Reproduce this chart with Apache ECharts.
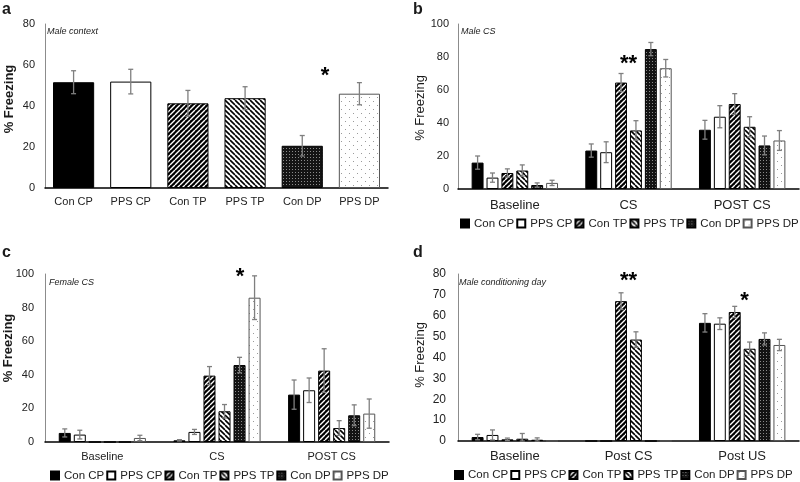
<!DOCTYPE html>
<html><head><meta charset="utf-8">
<script src="https://cdn.jsdelivr.net/npm/echarts@6.0.0/dist/echarts.min.js"></script>
<style>html,body{margin:0;padding:0;background:#fff}#c{width:800px;height:482px}</style>
</head><body><div id="c"></div>
<script>
// ---------- data ----------
const groupNames = ['Con CP', 'PPS CP', 'Con TP', 'PPS TP', 'Con DP', 'PPS DP'];

// Panel a: Male context
const aCategories = ['Con CP', 'PPS CP', 'Con TP', 'PPS TP', 'Con DP', 'PPS DP'];
const aValues = [51.6, 51.9, 41.3, 43.8, 20.6, 46.0];
const aErrors = [5.6, 6.0, 6.3, 5.6, 5.0, 5.4];

// Panel b: Male CS (rows = groups, columns = phases)
const bCategories = ['Baseline', 'CS', 'POST CS'];
const bValues = [
  [16.0, 23.3, 35.9],
  [6.9, 22.3, 43.8],
  [9.7, 64.5, 51.5],
  [11.2, 35.5, 37.7],
  [2.4, 84.8, 26.4],
  [3.7, 73.2, 29.4]
];
const bErrors = [
  [4.0, 4.0, 5.7],
  [2.8, 6.3, 6.7],
  [2.5, 5.5, 6.3],
  [3.4, 5.9, 6.1],
  [1.3, 4.0, 5.7],
  [1.6, 5.3, 6.0]
];

// Panel c: Female CS
const cCategories = ['Baseline', 'CS', 'POST CS'];
const cValues = [
  [5.4, 1.0, 28.2],
  [4.4, 6.0, 30.8],
  [0, 39.5, 42.5],
  [0, 18.3, 8.3],
  [0, 45.8, 15.9],
  [2.4, 85.9, 16.9]
];
const cErrors = [
  [2.4, 0.4, 8.7],
  [2.6, 1.5, 7.3],
  [0, 5.4, 13.0],
  [0, 4.0, 4.4],
  [0, 4.6, 6.2],
  [1.6, 13.0, 8.7]
];

// Panel d: Male conditioning day
const dCategories = ['Baseline', 'Post CS', 'Post US'];
const dValues = [
  [1.9, 0, 56.6],
  [2.9, 0, 56.2],
  [0.8, 67.0, 61.8],
  [1.1, 48.6, 44.2],
  [0.6, 0, 48.9],
  [0, 0, 46.0]
];
const dErrors = [
  [1.3, 0, 4.4],
  [2.4, 0, 2.8],
  [0.6, 4.0, 2.7],
  [2.5, 3.7, 3.2],
  [0.9, 0, 2.9],
  [0, 0, 2.7]
];

// significance marks: category index, value, offset (fraction of band), text
const aStarCat = [4], aStarVal = [57.1], aStarDx = [0.4], aStarText = ['*'];
const bStarCat = [1], bStarVal = [78.8], bStarDx = [0], bStarText = ['**'];
const cStarCat = [1], cStarVal = [101.2], cStarDx = [0.2], cStarText = ['*'];
const dStarCat = [1, 2], dStarVal = [78.6, 69.1], dStarDx = [0, 0.02], dStarText = ['**', '*'];

// ---------- styles ----------
const FONT = '"Liberation Sans", Arial, sans-serif';
function pat(kind) {
  const c = document.createElement('canvas');
  const x = c.getContext('2d');
  if (kind === 'fwd') {
    const s = 5; c.width = c.height = s;
    x.fillStyle = '#000'; x.fillRect(0, 0, s, s);
    x.strokeStyle = '#fff'; x.lineWidth = 1.4; x.beginPath();
    for (let k = -1; k <= 1; k++) { x.moveTo(k * s, s); x.lineTo(k * s + s, 0); }
    x.stroke();
  } else if (kind === 'back') {
    const s = 5; c.width = c.height = s;
    x.fillStyle = '#fff'; x.fillRect(0, 0, s, s);
    x.strokeStyle = '#000'; x.lineWidth = 1.6; x.beginPath();
    for (let k = -1; k <= 1; k++) { x.moveTo(k * s, 0); x.lineTo(k * s + s, s); }
    x.stroke();
  } else if (kind === 'dd') {
    c.width = c.height = 3;
    x.fillStyle = '#141414'; x.fillRect(0, 0, 3, 3);
    x.fillStyle = '#8a8a8a'; x.fillRect(1, 1, 1, 1);
  } else {
    c.width = c.height = 8;
    x.fillStyle = '#fff'; x.fillRect(0, 0, 8, 8);
    x.fillStyle = '#9a9a9a'; x.fillRect(1, 1, 1, 1); x.fillRect(5, 5, 1, 1);
  }
  return { image: c, repeat: 'repeat' };
}
const groupStyles = [
  { color: '#000', borderColor: '#000', borderWidth: 1 },
  { color: '#fff', borderColor: '#000', borderWidth: 1 },
  { color: pat('fwd'), borderColor: '#000', borderWidth: 1 },
  { color: pat('back'), borderColor: '#000', borderWidth: 1 },
  { color: pat('dd'), borderColor: '#000', borderWidth: 1 },
  { color: pat('ld'), borderColor: '#555', borderWidth: 1 }
];

const CAT_GAP_A = 0.28, CAT_GAP = 0.24, BAR_GAP = 0.25;

function errRender(catGap, barGap, n) {
  return function (params, api) {
    const cat = api.value(0), s = api.value(1), v = api.value(2), e = api.value(3);
    if (!(e > 0)) return null;
    const band = api.size([1, 0])[0];
    const usable = band * (1 - catGap);
    const bw = usable / (n + (n - 1) * barGap);
    const cx = api.coord([cat, 0])[0] - usable / 2 + s * bw * (1 + barGap) + bw / 2;
    const yT = api.coord([cat, v + e])[1];
    const yB = api.coord([cat, Math.max(0, v - e)])[1];
    const cap = Math.min(5, bw * 0.45) / 2;
    const st = { stroke: '#7f7f7f', lineWidth: 1.3 };
    return { type: 'group', children: [
      { type: 'line', shape: { x1: cx, y1: yT, x2: cx, y2: yB }, style: st },
      { type: 'line', shape: { x1: cx - cap, y1: yT, x2: cx + cap, y2: yT }, style: st },
      { type: 'line', shape: { x1: cx - cap, y1: yB, x2: cx + cap, y2: yB }, style: st }
    ]};
  };
}
function starRender(texts) {
  return function (params, api) {
    const band = api.size([1, 0])[0];
    const p = api.coord([api.value(0), api.value(1)]);
    return { type: 'text', x: p[0] + api.value(2) * band, y: p[1] + 4.5,
      style: { text: texts[params.dataIndex], font: 'bold 22px ' + FONT, fill: '#000', align: 'center', verticalAlign: 'middle' } };
  };
}

// ---------- build ----------
const grids = [
  { left: 45, top: 24, width: 343, height: 164 },
  { left: 458, top: 24, width: 341, height: 165 },
  { left: 45, top: 274, width: 344, height: 168 },
  { left: 458, top: 274, width: 341, height: 167 }
];
const xCats = [aCategories, bCategories, cCategories, dCategories];
const xFont = [11, 13, 11, 13], xMargin = [8, 10, 9, 9];
const yMax = [80, 100, 100, 80], yInt = [20, 20, 20, 10], yFont = [11, 11, 11, 12], yMargin = [10, 9, 11, 12];

const xAxis = xCats.map((cats, i) => ({
  type: 'category', gridIndex: i, data: cats,
  axisTick: { show: false },
  axisLine: { lineStyle: { color: '#000', width: 1.5 } },
  axisLabel: { color: '#222', fontSize: xFont[i], fontFamily: FONT, margin: xMargin[i], interval: 0 }
}));
const yAxis = yMax.map((m, i) => ({
  type: 'value', gridIndex: i, min: 0, max: m, interval: yInt[i],
  axisLine: { show: true, lineStyle: { color: '#8c8c8c', width: 1 } },
  axisTick: { show: false }, splitLine: { show: false },
  axisLabel: { color: '#222', fontSize: yFont[i], fontFamily: FONT, margin: yMargin[i] }
}));

const series = [];
// panel a
series.push({
  type: 'bar', name: 'Male context', xAxisIndex: 0, yAxisIndex: 0,
  barCategoryGap: (CAT_GAP_A * 100) + '%',
  data: aValues.map((v, i) => ({ value: v, itemStyle: groupStyles[i] })),
  z: 2
});
series.push({
  type: 'custom', xAxisIndex: 0, yAxisIndex: 0, silent: true, z: 5,
  encode: { x: 0, y: 2 },
  data: aValues.map((v, i) => [i, 0, v, aErrors[i]]),
  renderItem: errRender(CAT_GAP_A, BAR_GAP, 1)
});
series.push({
  type: 'custom', xAxisIndex: 0, yAxisIndex: 0, silent: true, z: 6, encode: { x: 0, y: 1 },
  data: aStarCat.map((c, i) => [c, aStarVal[i], aStarDx[i]]),
  renderItem: starRender(aStarText)
});
// panels b,c,d
const grouped = [
  [bValues, bErrors, bStarCat, bStarVal, bStarDx, bStarText],
  [cValues, cErrors, cStarCat, cStarVal, cStarDx, cStarText],
  [dValues, dErrors, dStarCat, dStarVal, dStarDx, dStarText]
];
grouped.forEach((g, k) => {
  const ax = k + 1;
  const [vals, errs, sc, sv, sd, stx] = g;
  vals.forEach((row, s) => {
    series.push({
      type: 'bar', name: groupNames[s], xAxisIndex: ax, yAxisIndex: ax,
      barGap: (BAR_GAP * 100) + '%', barCategoryGap: (CAT_GAP * 100) + '%',
      itemStyle: groupStyles[s], data: row, z: 2
    });
  });
  const edata = [];
  vals.forEach((row, s) => row.forEach((v, c) => edata.push([c, s, v, errs[s][c]])));
  series.push({
    type: 'custom', xAxisIndex: ax, yAxisIndex: ax, silent: true, z: 5,
    encode: { x: 0, y: 2 }, data: edata, renderItem: errRender(CAT_GAP, BAR_GAP, 6)
  });
  series.push({
    type: 'custom', xAxisIndex: ax, yAxisIndex: ax, silent: true, z: 6, encode: { x: 0, y: 1 },
    data: sc.map((c, i) => [c, sv[i], sd[i]]), renderItem: starRender(stx)
  });
});

const legendPos = [[460, 217.5], [50, 469.5], [454, 469]];
const legend = legendPos.map(p => ({
  left: p[0], top: p[1], width: 420, padding: 0, itemGap: 2, itemWidth: 8, itemHeight: 8,
  icon: 'rect', data: groupNames, selectedMode: false,
  textStyle: { color: '#222', fontSize: 11.5, fontFamily: FONT }
}));

function txt(t, x, y, font) {
  return { type: 'text', x: x, y: y, silent: true,
    style: { text: t, font: font, fill: '#1a1a1a', align: 'left', verticalAlign: 'middle' } };
}
function vtxt(t, x, y, font) {
  return { type: 'text', x: x, y: y, rotation: Math.PI / 2, silent: true,
    style: { text: t, font: font, fill: '#1a1a1a', align: 'center', verticalAlign: 'middle' } };
}
const graphic = [
  txt('a', 2, 10, 'bold 16px ' + FONT),
  txt('b', 413, 10, 'bold 16px ' + FONT),
  txt('c', 2, 253, 'bold 16px ' + FONT),
  txt('d', 413, 253, 'bold 16px ' + FONT),
  txt('Male context', 47, 31, 'italic 9px ' + FONT),
  txt('Male CS', 461, 31.5, 'italic 9px ' + FONT),
  txt('Female CS', 49, 282, 'italic 9px ' + FONT),
  txt('Male conditioning day', 459, 282.5, 'italic 9px ' + FONT),
  vtxt('% Freezing', 9.5, 99, 'bold 13px ' + FONT),
  vtxt('% Freezing', 420.5, 108, '13px ' + FONT),
  vtxt('% Freezing', 8, 348, 'bold 13px ' + FONT),
  vtxt('% Freezing', 420.5, 355, '13px ' + FONT)
];

const chart = echarts.init(document.getElementById('c'), null, { renderer: 'canvas' });
chart.setOption({
  animation: false, backgroundColor: '#fff',
  grid: grids, xAxis: xAxis, yAxis: yAxis, legend: legend, series: series, graphic: graphic
});
</script></body></html>
